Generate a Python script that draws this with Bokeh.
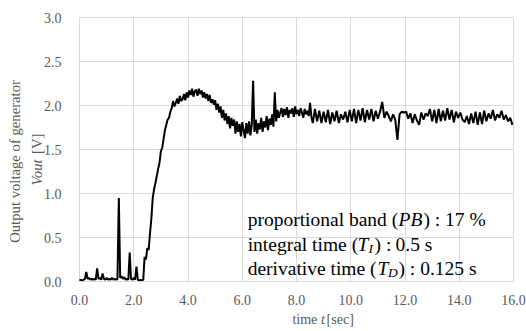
import numpy as np
from bokeh.plotting import figure
from bokeh.models import Range1d, Label, NumeralTickFormatter, Grid
from bokeh.embed import file_html
from bokeh.resources import INLINE

# ---- data ----
# segment A: before the step, sampled every 0.05 s from 0.00 s
seg_a_start = 0.00
seg_a_step = 0.05
seg_a_values = [
    0.01, 0.02, 0.01, 0.02, 0.03, 0.11, 0.03, 0.04, 0.02, 0.03,
    0.02, 0.03, 0.02, 0.15, 0.03, 0.04, 0.02, 0.09, 0.03, 0.02,
    0.04, 0.02, 0.03, 0.02, 0.04, 0.02, 0.03, 0.02, 0.03, 0.95,
    0.04, 0.06, 0.03, 0.05, 0.02, 0.03, 0.02, 0.33, 0.03, 0.02,
    0.04, 0.02, 0.17, 0.02, 0.01, 0.02, 0.01, 0.02,
]
# segment B: rise and settling, sampled every 0.05 s from 2.40 s
seg_b_start = 2.40
seg_b_step = 0.05
seg_b_values = [
    0.28, 0.25, 0.38, 0.36, 0.55, 0.72, 0.95, 1.05, 1.12, 1.20,
    1.28, 1.35, 1.48, 1.52, 1.62, 1.72, 1.78, 1.84, 1.86, 1.93,
    1.97, 2.05, 1.99, 2.03, 2.08, 2.02, 2.11, 2.05, 2.07, 2.13, 2.06, 2.15,
    2.09, 2.17, 2.12, 2.19, 2.10, 2.16, 2.18, 2.11, 2.19, 2.13, 2.17, 2.09,
    2.15, 2.08, 2.13, 2.05, 2.12, 2.03, 2.07, 2.01, 2.06, 1.95, 2.02, 1.92,
    1.99, 1.86, 1.95, 1.83, 1.91, 1.79, 1.88, 1.74, 1.86, 1.77, 1.84, 1.68,
    1.82, 1.70, 1.79, 1.65, 1.81, 1.72, 1.63, 1.80, 1.68, 1.82, 1.66, 1.78,
    2.28,
    1.70, 1.84, 1.68, 1.80, 1.73, 1.86, 1.70, 1.82, 1.75, 1.88, 1.72, 1.85,
    1.78, 1.90, 1.76,
    2.15,
    1.82, 1.95, 1.86, 1.92, 1.97, 1.87, 1.96, 1.89, 1.98, 1.86, 1.95, 1.91,
    1.97, 1.87, 1.99, 1.90, 1.95, 1.88, 1.97, 1.92, 1.86, 1.96, 1.90, 1.94,
    1.88, 2.03, 1.87,
]
# segment C: steady state, sampled every 0.08 s from 8.60 s
seg_c_start = 8.60
seg_c_step = 0.08
seg_c_values = [
    1.80, 1.96, 1.82, 1.94, 1.80, 1.93, 1.81, 1.95, 1.79, 1.92,
    1.82, 1.94, 1.80, 1.90, 1.84, 1.93, 1.81, 1.95, 1.82, 1.96,
    1.80, 1.95, 1.83, 1.97, 1.81, 1.95, 1.84, 1.96, 1.82, 1.94,
    1.85, 1.93, 2.04, 1.86, 1.93, 1.88, 1.82, 1.90, 1.84, 1.61,
    1.90, 1.93, 1.92, 1.93, 1.85, 1.91, 1.80, 1.90, 1.83, 1.78,
    1.92, 1.84, 1.91, 1.88, 1.96, 1.82, 1.95, 1.80, 1.96, 1.82,
    1.94, 1.83, 1.97, 1.84, 1.95, 1.81, 1.93, 1.86, 1.92, 1.84,
    1.81, 1.88, 1.79, 1.91, 1.80, 1.93, 1.78, 1.92, 1.79, 1.94,
    1.82, 1.91, 1.85, 1.95, 1.83, 1.90, 1.86, 1.94, 1.84, 1.89,
    1.82, 1.86, 1.78,
]

x_ticks = [0, 2, 4, 6, 8, 10, 12, 14, 16]
y_ticks = [0.0, 0.5, 1.0, 1.5, 2.0, 2.5, 3.0]
x_lo, x_hi = 0, 16
y_lo, y_hi = 0.0, 3.0

t = np.concatenate([
    seg_a_start + seg_a_step * np.arange(len(seg_a_values)),
    seg_b_start + seg_b_step * np.arange(len(seg_b_values)),
    seg_c_start + seg_c_step * np.arange(len(seg_c_values)),
])
v = np.array(seg_a_values + seg_b_values + seg_c_values)

FONT = "Liberation Serif"
GRID = "#d9d9d9"
TXT = "#595959"

# the frame fills the canvas so that the axis titles (drawn as labels)
# are not clipped; axes sit at the data origin via fixed_location
W, H = 526, 331
LEFT, BOTTOM = 79, 281          # pixel position of (0, 0)
PX_X = 434 / 16.0               # pixels per second
PX_Y = 264 / 3.0                # pixels per volt
xr = Range1d(-LEFT / PX_X, (W - LEFT) / PX_X)
yr = Range1d(-(H - BOTTOM) / PX_Y, BOTTOM / PX_Y)

p = figure(width=W, height=H, min_border=0,
           x_range=xr, y_range=yr,
           output_backend="svg", toolbar_location=None)
p.background_fill_color = "white"
p.border_fill_color = "white"
p.outline_line_color = None

for ax in (p.xaxis[0], p.yaxis[0]):
    ax.formatter = NumeralTickFormatter(format="0.0")
    ax.major_tick_line_color = None
    ax.minor_tick_line_color = None
    ax.major_label_text_font = FONT
    ax.major_label_text_font_size = "14px"
    ax.major_label_text_color = TXT
    ax.fixed_location = 0
p.xaxis.ticker = x_ticks
p.yaxis.ticker = y_ticks
p.xaxis.bounds = (x_lo, x_hi)
p.yaxis.bounds = (y_lo, y_hi)
p.xaxis.axis_line_color = GRID
p.yaxis.axis_line_color = None
p.xaxis.major_label_standoff = 7
p.yaxis.major_label_standoff = 12

has_cross = "cross_bounds" in Grid.properties()
p.xgrid.ticker = x_ticks
p.ygrid.ticker = y_ticks
p.xgrid.grid_line_color = GRID
p.ygrid.grid_line_color = GRID
if has_cross:
    p.xgrid.cross_bounds = (y_lo, y_hi)
    p.ygrid.cross_bounds = (x_lo, x_hi)
else:
    p.xgrid.visible = False
    p.ygrid.visible = False
    p.segment(x0=x_ticks, y0=[y_lo] * len(x_ticks), x1=x_ticks,
              y1=[y_hi] * len(x_ticks), line_color=GRID, line_width=1)
    p.segment(x0=[x_lo] * len(y_ticks), y0=y_ticks, x1=[x_hi] * len(y_ticks),
              y1=y_ticks, line_color=GRID, line_width=1)

p.line(t, v, line_color="black", line_width=2)


def lab(x, y, text, size="19.5px", style="normal", color="black",
        align="left", angle=0.0, baseline="alphabetic"):
    p.add_layout(Label(x=x, y=y, text=text, text_font=FONT,
                       text_font_size=size, text_font_style=style,
                       text_color=color, text_align=align,
                       text_baseline=baseline, angle=angle))


# annotation block
lab(6.20, 0.705, "proportional band (")
lab(11.76, 0.705, "PB", style="italic")
lab(12.68, 0.705, ") : 17 %")
lab(6.20, 0.42, "integral time (")
lab(10.25, 0.42, "T", style="italic")
lab(10.65, 0.37, "I", size="13.5px", style="italic")
lab(10.88, 0.42, ") :")
lab(11.65, 0.42, "0.5 s")
lab(6.20, 0.148, "derivative time (")
lab(10.99, 0.148, "T", style="italic")
lab(11.37, 0.098, "D", size="13.5px", style="italic")
lab(11.76, 0.148, ") : 0.125 s")

# axis titles
lab(-2.36, 1.364, "Output voltage of generator", size="14.7px", color=TXT,
    align="center", angle=np.pi / 2, baseline="middle")
lab(-1.585, 1.091, "Vout", size="14.7px", style="italic", color=TXT,
    angle=np.pi / 2, baseline="middle")
lab(-1.585, 1.449, "[V]", size="14.7px", color=TXT,
    angle=np.pi / 2, baseline="middle")
lab(7.85, -0.432, "time", size="14px", color=TXT)
lab(8.90, -0.432, "t", size="14px", style="italic", color=TXT)
lab(9.11, -0.432, "[sec]", size="14px", color=TXT)

open("out.html", "w").write(file_html(p, INLINE))
